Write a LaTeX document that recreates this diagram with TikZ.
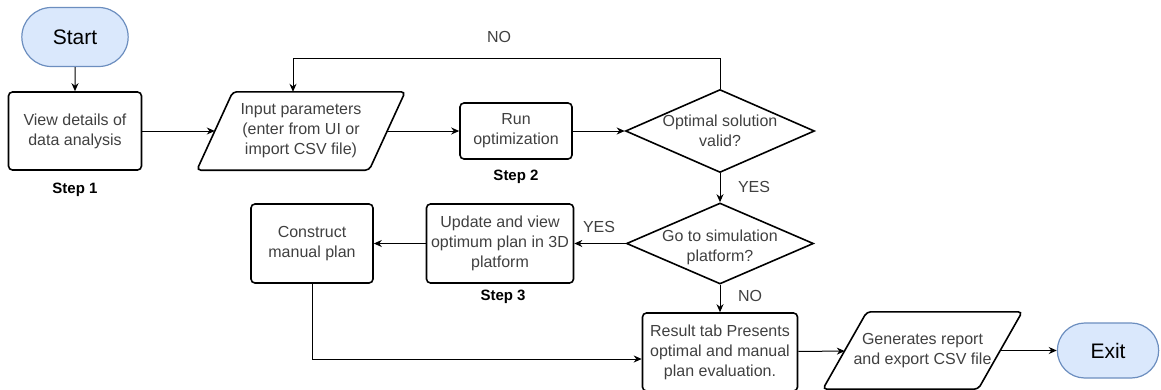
\documentclass[tikz,border=0pt]{standalone}
\usepackage{fontspec}
\setmainfont{Liberation Sans}
\usetikzlibrary{shapes.geometric,shapes.misc,arrows.meta}
\definecolor{termfill}{HTML}{DAE8FC}
\definecolor{termline}{HTML}{6C8EBF}
\definecolor{txtgray}{HTML}{404040}

\begin{document}
\begin{tikzpicture}[x=1pt,y=-1pt,
  every node/.style={font=\fontsize{16}{20}\selectfont, text=txtgray, align=center},
  term/.style={rounded rectangle, draw=termline, fill=termfill, line width=1.2pt, text=black, font=\fontsize{21}{24}\selectfont},
  proc/.style={rectangle, rounded corners=4pt, draw, line width=1.6pt, inner sep=2pt},
  io/.style={rectangle, inner sep=2pt},
  iobox/.style={draw, line width=1.6pt, rounded corners=4pt},
  decide/.style={diamond, draw, line width=1.6pt, inner sep=0pt},
  steplbl/.style={font=\bfseries\fontsize{15}{18}\selectfont, text=black},
  flow/.style={-{Stealth[length=8pt,width=7pt]}, line width=1pt}]
\useasboundingbox (0,0) rectangle (1161,389);

% top row
\node[term, minimum width=113pt, minimum height=59pt] (start) at (75,37) {Start};
\node[proc, minimum width=133pt, minimum height=78pt] (view) at (75,131) {View details of\\data analysis};
\node[steplbl] (step1) at (75,190) {Step 1};
\node[io, minimum width=172pt, minimum height=78pt] (input) at (301,131) {Input parameters\\(enter from UI or\\import CSV file)};
\node[proc, minimum width=112pt, minimum height=56pt] (run) at (516,131) {Run\\optimization};
\node[steplbl] (step2) at (516,177) {Step 2};
\node[decide, minimum width=189pt, minimum height=83pt, label={center:{Optimal solution\\valid?}}] (opt) at (720,131) {};

% middle row
\node[decide, minimum width=187pt, minimum height=81pt, label={[yshift=-4pt]center:{Go to simulation\\platform?}}] (go) at (720,243.5) {};
\node[proc, minimum width=147pt, minimum height=79pt] (update) at (500,243.5) {Update and view\\optimum plan in 3D\\platform};
\node[steplbl] (step3) at (503,297) {Step 3};
\node[proc, minimum width=122pt, minimum height=79pt] (construct) at (312,243.5) {Construct\\manual plan};

% bottom row
\node[proc, minimum width=155pt, minimum height=78pt] (result) at (720,352) {Result tab Presents\\optimal and manual\\plan evaluation.};
\node[io, minimum width=155pt, minimum height=77pt] (gen) at (922.5,350.5) {Generates report\\and export CSV file};
\node[term, minimum width=108pt, minimum height=55pt] (exit) at (1108,350.5) {Exit};

% slanted input/output boxes
\foreach \nd/\sl in {input/18, gen/22}
  \draw[iobox] ([xshift=-\sl pt]\nd.south west) -- ([xshift=\sl pt]\nd.north west)
    -- ([xshift=\sl pt]\nd.north east) -- ([xshift=-\sl pt]\nd.south east) -- cycle;

% connectors
\coordinate (noturn) at (293,58);
\draw[flow] (start) -- (view);
\draw[flow] (view) -- (input);
\draw[flow] (input) -- (run);
\draw[flow] (run) -- (opt);
\draw[flow] (opt.north) |- (noturn) -- (noturn |- input.north);
\node (nolbl) at (499,37) {NO};
\draw[flow] (opt) -- (go);
\node (yeslbl) at (754,187) {YES};
\draw[flow] (go) -- (update);
\node (yessim) at (599,227) {YES};
\draw[flow] (update) -- (construct);
\draw[flow] (go) -- (result);
\node (nosim) at (750,296) {NO};
\draw[flow] (construct.south) |- ([yshift=-7pt]result.west);
\draw[flow] (result) -- (gen);
\draw[flow] (gen) -- (exit);
\end{tikzpicture}
\end{document}
